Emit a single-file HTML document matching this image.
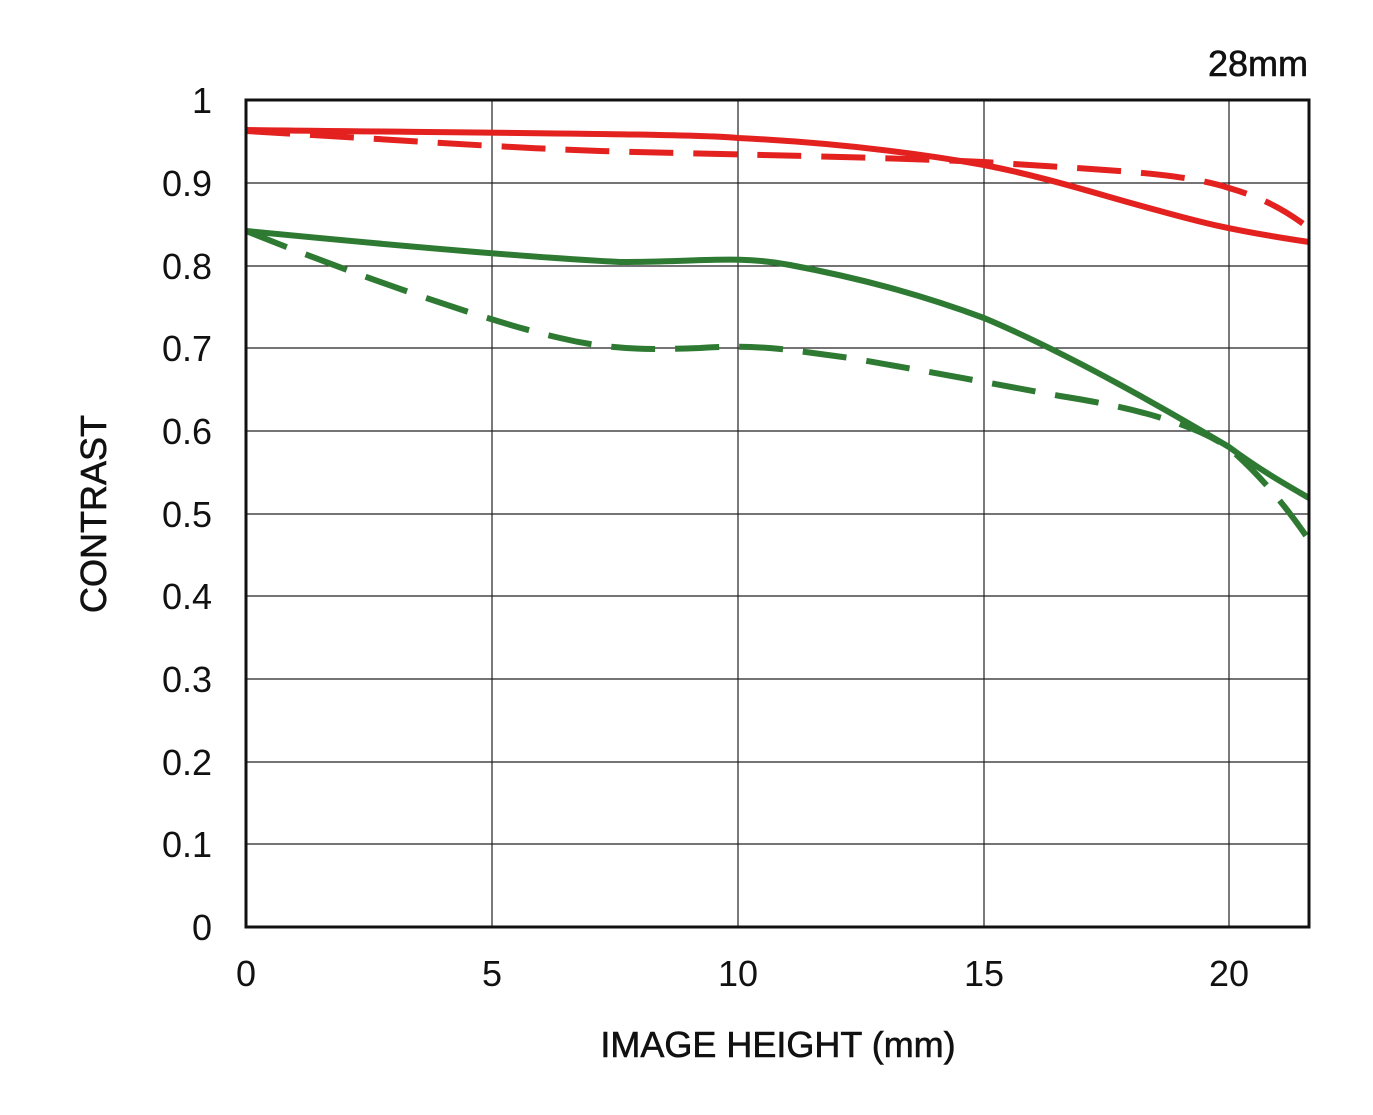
<!DOCTYPE html>
<html><head><meta charset="utf-8"><style>
html,body{margin:0;padding:0;background:#fff;}
svg{display:block;}
text{font-family:"Liberation Sans",sans-serif;fill:#111;}
</style></head><body>
<svg width="1373" height="1115" viewBox="0 0 1373 1115" xmlns="http://www.w3.org/2000/svg">
<g stroke="#222" stroke-width="1.2">
<line x1="246" y1="183" x2="1309" y2="183"/>
<line x1="246" y1="266" x2="1309" y2="266"/>
<line x1="246" y1="348" x2="1309" y2="348"/>
<line x1="246" y1="431" x2="1309" y2="431"/>
<line x1="246" y1="514" x2="1309" y2="514"/>
<line x1="246" y1="596" x2="1309" y2="596"/>
<line x1="246" y1="679" x2="1309" y2="679"/>
<line x1="246" y1="762" x2="1309" y2="762"/>
<line x1="246" y1="844" x2="1309" y2="844"/>
<line x1="492" y1="100" x2="492" y2="927"/>
<line x1="738" y1="100" x2="738" y2="927"/>
<line x1="984" y1="100" x2="984" y2="927"/>
<line x1="1229" y1="100" x2="1229" y2="927"/>
</g>
<g fill="none" stroke-width="6" stroke-linecap="butt">
<path d="M246,130 C500,133 700,134 738,138 C820,142 900,150 984,165 C1050,178 1100,195 1160,211 C1200,222 1229,230 1309,242" stroke="#e3211f"/>
<path d="M246,131 C400,140 492,147 600,151 C700,154 850,156 984,162 C1100,170 1180,172 1229,188 C1270,200 1290,214 1309,228" stroke="#e3211f" stroke-dasharray="44,20"/>
<path d="M246,231 C400,246 540,258 620,262 C700,262 738,255 790,265 C870,280 930,298 984,318 C1060,350 1150,400 1229,447 C1260,470 1285,484 1309,498" stroke="#2e7a33"/>
<path d="M246,231 C330,265 480,320 560,338 C610,350 650,350 700,348 C760,344 790,350 850,358 C920,370 984,382 1060,396 C1150,410 1200,428 1229,448 C1260,475 1285,505 1309,540" stroke="#2e7a33" stroke-dasharray="44,20"/>
</g>
<rect x="246" y="100" width="1063" height="827" fill="none" stroke="#111" stroke-width="3"/>
<g font-size="36" text-anchor="end">
<text x="212" y="113">1</text>
<text x="212" y="196">0.9</text>
<text x="212" y="279">0.8</text>
<text x="212" y="361">0.7</text>
<text x="212" y="444">0.6</text>
<text x="212" y="527">0.5</text>
<text x="212" y="609">0.4</text>
<text x="212" y="692">0.3</text>
<text x="212" y="775">0.2</text>
<text x="212" y="857">0.1</text>
<text x="212" y="940">0</text>
</g>
<g font-size="36" text-anchor="middle">
<text x="246" y="986">0</text>
<text x="492" y="986">5</text>
<text x="738" y="986">10</text>
<text x="984" y="986">15</text>
<text x="1229" y="986">20</text>
<text x="778" y="1057" stroke="#111" stroke-width="0.6">IMAGE HEIGHT (mm)</text>
</g>
<text x="1308" y="76" font-size="36" text-anchor="end" stroke="#111" stroke-width="0.6">28mm</text>
<text transform="translate(106,514) rotate(-90)" font-size="36" text-anchor="middle" stroke="#111" stroke-width="0.6">CONTRAST</text>
</svg>
</body></html>
